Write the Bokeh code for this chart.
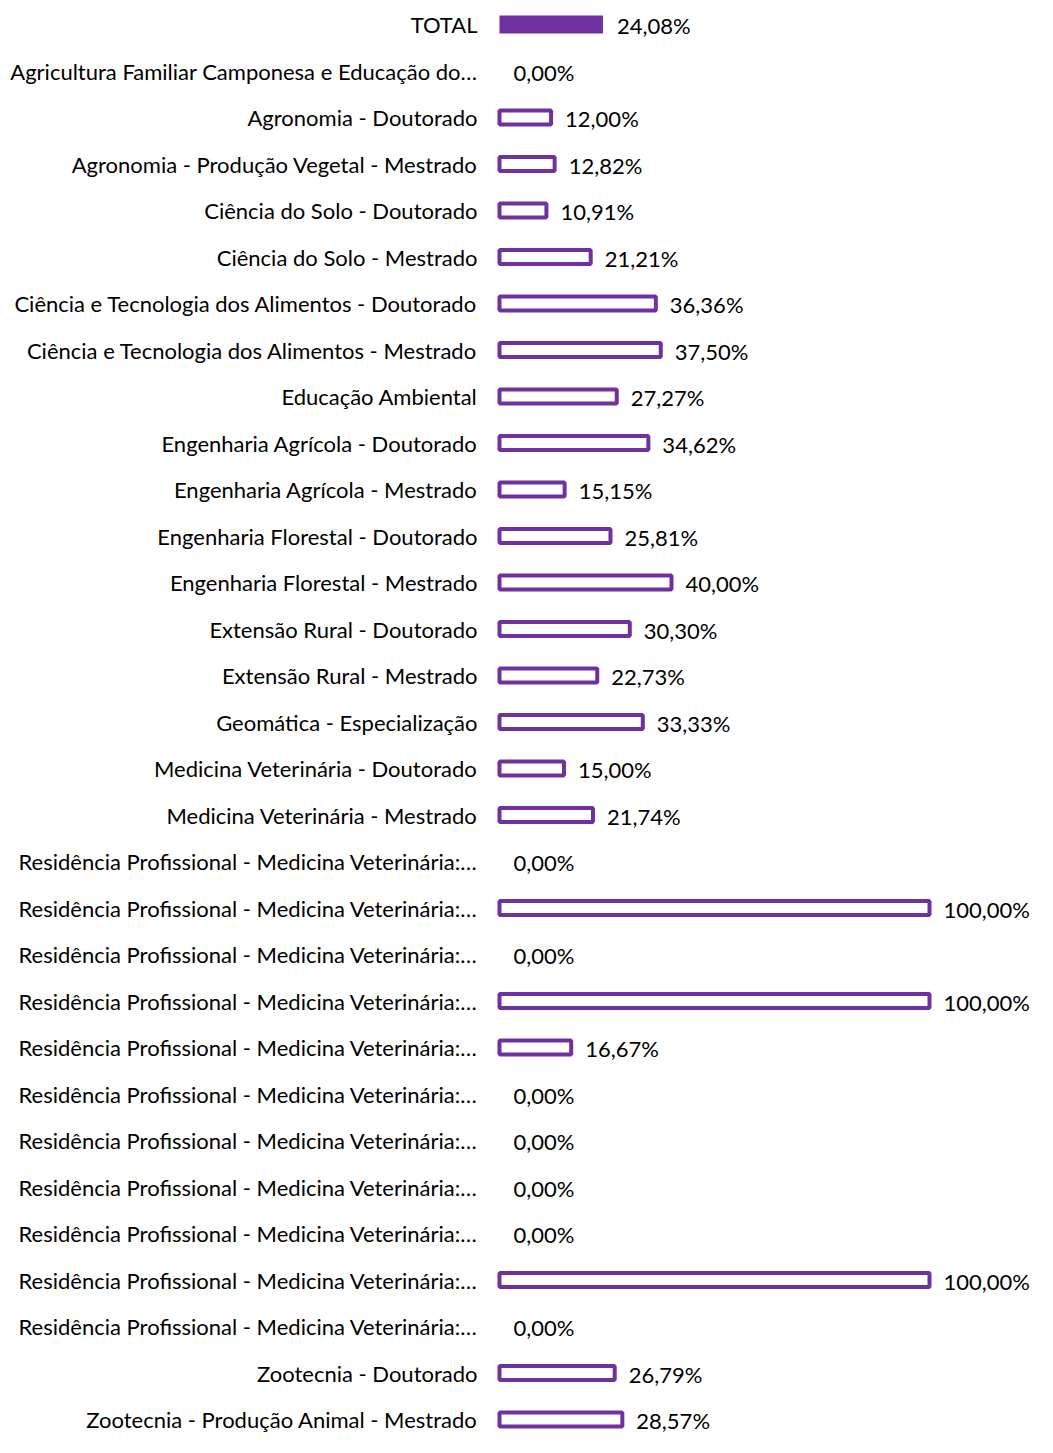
from bokeh.plotting import figure
from bokeh.models import ColumnDataSource, Range1d
from bokeh.embed import file_html
from bokeh.resources import INLINE
from bokeh.core.properties import value

RES = "Residência Profissional - Medicina Veterinária:…"
categories = [
    "TOTAL",
    "Agricultura Familiar Camponesa e Educação do…",
    "Agronomia - Doutorado",
    "Agronomia - Produção Vegetal - Mestrado",
    "Ciência do Solo - Doutorado",
    "Ciência do Solo - Mestrado",
    "Ciência e Tecnologia dos Alimentos - Doutorado",
    "Ciência e Tecnologia dos Alimentos - Mestrado",
    "Educação Ambiental",
    "Engenharia Agrícola - Doutorado",
    "Engenharia Agrícola - Mestrado",
    "Engenharia Florestal - Doutorado",
    "Engenharia Florestal - Mestrado",
    "Extensão Rural - Doutorado",
    "Extensão Rural - Mestrado",
    "Geomática - Especialização",
    "Medicina Veterinária - Doutorado",
    "Medicina Veterinária - Mestrado",
    RES, RES, RES, RES, RES, RES, RES, RES, RES, RES, RES,
    "Zootecnia - Doutorado",
    "Zootecnia - Produção Animal - Mestrado",
]
values = [
    24.08, 0.00, 12.00, 12.82, 10.91, 21.21, 36.36, 37.50, 27.27, 34.62,
    15.15, 25.81, 40.00, 30.30, 22.73, 33.33, 15.00, 21.74,
    0.00, 100.00, 0.00, 100.00, 16.67, 0.00, 0.00, 0.00, 0.00, 100.00, 0.00,
    26.79, 28.57,
]

PURPLE = "#7030A0"
W, H = 1037, 1437
PX_PER_PCT = 4.30
BAR_X0 = 499
TOP = 24
PITCH = (1419 - TOP) / 30

x_start = -BAR_X0 / PX_PER_PCT
x_end = (W - BAR_X0) / PX_PER_PCT
y_top = -TOP / PITCH
y_bot = (H - TOP) / PITCH

idx = list(range(len(categories)))
labels = [f"{v:.2f}".replace(".", ",") + "%" for v in values]

p = figure(width=W, height=H, output_backend="svg", toolbar_location=None,
           x_range=Range1d(x_start, x_end), y_range=Range1d(y_bot, y_top),
           min_border=0, outline_line_color=None)
p.xaxis.visible = False
p.yaxis.visible = False
p.xgrid.visible = False
p.ygrid.visible = False

# total bar (solid)
p.hbar(y=[idx[0]], left=0, right=[values[0]], height=18 / PITCH,
       fill_color=PURPLE, line_color=None)

# outlined bars (non-zero only)
oi = [i for i in idx[1:] if values[i] > 0]
src_o = ColumnDataSource(dict(y=oi, right=[values[i] for i in oi]))
p.hbar(y="y", left=0, right="right", height=14 / PITCH, source=src_o,
       fill_color="white", line_color=PURPLE, line_width=4)

FONT = value("Lato")
src_t = ColumnDataSource(dict(y=idx, x=values, cat=categories, lab=labels,
                              zero=[0] * len(idx)))
p.text(x="zero", y="y", text="cat", source=src_t, x_offset=-22,
       text_align="right", text_baseline="middle", text_font=FONT,
       text_font_size="22px", text_color="black")
p.text(x="x", y="y", text="lab", source=src_t, x_offset=14, y_offset=1,
       text_align="left", text_baseline="middle", text_font=FONT,
       text_font_size="22px", text_color="black")

open("out.html", "w").write(file_html(p, INLINE))
